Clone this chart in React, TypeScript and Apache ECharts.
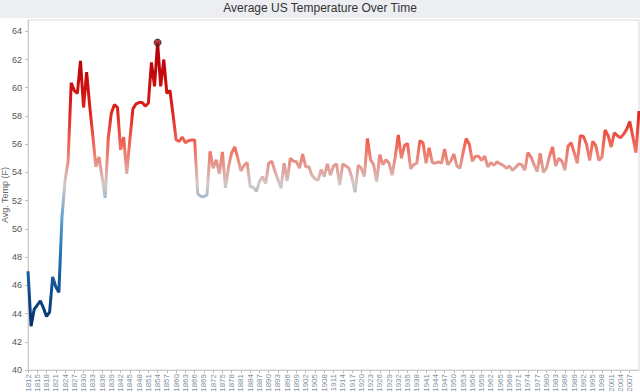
import { useEffect, useRef } from "react";
import * as echarts from "echarts";

const titleText = "Average US Temperature Over Time";
const yAxisName = "Avg. Temp (F)";
const firstYear = 1812;

// Average temperature (F) per year, 1812 .. 2010
const temps: number[] = [
  47.0, 43.1, 44.3, 44.6, 44.9, 44.4, 43.8, 44.1, 46.6, 45.9,
  45.5, 50.8, 53.4, 54.8, 60.35, 59.8, 59.6, 61.9, 58.6, 61.1,
  58.7, 56.6, 54.4, 55.1, 53.7, 52.2, 56.4, 58.2, 58.8, 58.6,
  55.6, 56.5, 53.9, 56.3, 58.5, 58.85, 58.95, 58.95, 58.7, 58.9,
  61.8, 60.1, 63.2, 60.1, 62.0, 59.6, 59.8, 58.1, 56.3, 56.2,
  56.5, 56.1, 56.25, 56.3, 56.3, 52.5, 52.3, 52.3, 52.4, 55.5,
  54.3, 54.9, 53.9, 55.45, 52.9, 54.4, 55.4, 55.8, 55.0, 54.1,
  54.5, 54.7, 53.0, 52.95, 52.65, 53.35, 53.7, 53.2, 54.65, 54.8,
  54.1, 53.5, 52.9, 54.65, 53.4, 55.0, 54.8, 54.75, 54.3, 55.3,
  54.4, 54.4, 53.8, 53.55, 53.45, 54.2, 53.7, 54.6, 53.8, 54.45,
  54.6, 53.1, 54.6, 54.45, 54.3, 53.6, 52.6, 54.5, 54.3, 53.7,
  56.4, 54.9, 54.55, 53.35, 55.25, 54.55, 54.9, 54.65, 53.8, 55.1,
  56.65, 55.0, 55.9, 56.05, 54.25, 54.55, 54.65, 56.25, 56.1, 54.65,
  55.75, 54.7, 54.65, 54.75, 54.65, 55.65, 54.55, 54.8, 55.3, 54.45,
  54.3, 55.4, 56.4, 56.0, 54.8, 55.15, 55.15, 54.85, 55.15, 54.4,
  54.7, 54.5, 54.75, 54.6, 54.5, 54.3, 54.45, 54.15, 54.35, 54.6,
  54.55, 54.15, 55.4, 55.1, 54.55, 54.05, 55.35, 54.0, 54.3, 55.15,
  55.8, 54.45, 55.0, 54.8, 54.15, 55.85, 56.1, 55.4, 54.65, 56.6,
  56.55, 56.0, 54.85, 56.2, 55.9, 54.85, 55.1, 57.0, 56.6, 55.8,
  56.8, 56.6, 56.45, 56.7, 57.05, 57.6, 56.55, 55.4, 58.35,
];

const years: string[] = temps.map((_, i) => String(firstYear + i));

const colorStops = [
  "#08306b",
  "#0e4d8f",
  "#2171b5",
  "#5aa0d0",
  "#d2c8c8",
  "#f27060",
  "#e0261e",
  "#c80a0a",
  "#b0000f",
];

const FONT = "'Liberation Sans', Arial, sans-serif";

export default function App() {
  const ref = useRef<HTMLDivElement>(null);

  useEffect(() => {
    if (!ref.current) return;
    const chart = echarts.init(ref.current, undefined, { renderer: "svg" });
    const minV = Math.min(...temps);
    const maxV = Math.max(...temps);
    const peakIdx = temps.indexOf(maxV);

    chart.setOption({
      animation: false,
      backgroundColor: "#ffffff",
      textStyle: { fontFamily: FONT },
      title: {
        text: titleText,
        left: "center",
        top: 2,
        padding: 0,
        textStyle: {
          fontSize: 12,
          fontWeight: "normal",
          color: "#333333",
          fontFamily: FONT,
        },
      },
      graphic: [
        {
          type: "rect",
          left: 0,
          top: 0,
          z: -10,
          shape: { width: 640, height: 18 },
          style: { fill: "#eceef1" },
        },
      ],
      grid: {
        left: 28,
        right: 1,
        top: 20,
        bottom: 22,
        show: true,
        borderColor: "#d9d9d9",
        borderWidth: 1,
        containLabel: false,
        outerBoundsMode: "none",
      },
      xAxis: {
        type: "category",
        data: years,
        boundaryGap: false,
        axisLine: { lineStyle: { color: "#cccccc" } },
        axisTick: {
          interval: 2,
          length: 3,
          lineStyle: { color: "#bbbbbb" },
        },
        axisLabel: {
          interval: 2,
          rotate: 90,
          fontSize: 8,
          color: "#8090a0",
          margin: 4,
          showMaxLabel: false,
          fontFamily: FONT,
        },
        splitLine: { show: false },
      },
      yAxis: {
        type: "value",
        min: 40,
        max: 64.8,
        interval: 2,
        name: yAxisName,
        nameLocation: "middle",
        nameGap: 19,
        nameMoveOverlap: false,
        nameTextStyle: { fontSize: 9, color: "#666666", fontFamily: FONT },
        axisLine: { show: true, lineStyle: { color: "#cccccc" } },
        axisTick: { show: true, length: 3, lineStyle: { color: "#bbbbbb" } },
        axisLabel: {
          fontSize: 9,
          color: "#555555",
          margin: 6,
          showMaxLabel: false,
          fontFamily: FONT,
        },
        splitLine: { show: false },
      },
      visualMap: {
        show: false,
        type: "continuous",
        seriesIndex: 0,
        dimension: 1,
        min: minV,
        max: maxV,
        inRange: { color: colorStops },
      },
      series: [
        {
          type: "line",
          data: temps,
          showSymbol: false,
          lineStyle: { width: 3 },
          z: 2,
        },
        {
          type: "scatter",
          data: [[peakIdx, maxV]],
          symbol: "circle",
          symbolSize: 7,
          itemStyle: { color: "#a50f15", borderColor: "#222222", borderWidth: 1 },
          z: 3,
        },
      ],
    });

    return () => chart.dispose();
  }, []);

  return (
    <div
      ref={ref}
      style={{ position: "fixed", left: 0, top: 0, width: 640, height: 392 }}
    />
  );
}
